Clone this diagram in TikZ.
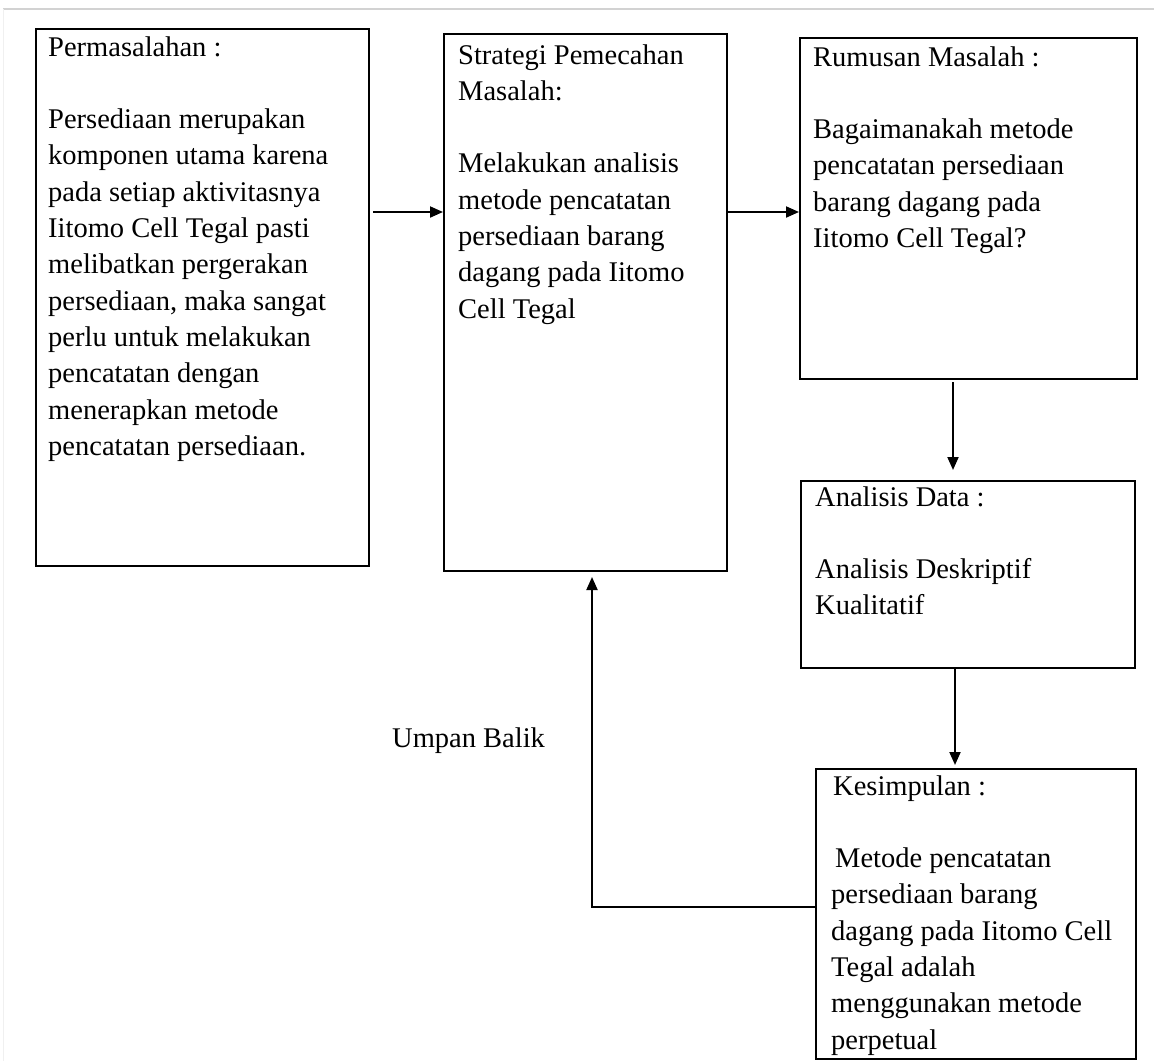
\documentclass[tikz,border=0pt]{standalone}
\usepackage{fontspec}
\setmainfont{Liberation Serif}
\usetikzlibrary{arrows.meta}
\newcommand{\blk}[1]{\begin{tabular}[t]{@{}l@{}}#1\end{tabular}}
\begin{document}
\begin{tikzpicture}[x=1pt,y=-1pt,
  box/.style={draw,line width=2pt,inner sep=0pt,anchor=north west},
  txt/.style={anchor=base west,inner sep=0pt,font=\fontsize{28.5}{36.3}\selectfont},
  arr/.style={line width=2pt,-{Triangle[length=13pt,width=11pt]}}]
\useasboundingbox (0,0) rectangle (1154,1061);
\draw[gray!35,line width=1.5pt] (3,9) -- (1154,9);
\draw[gray!12,line width=1pt] (3,9) -- (3,1061);
% boxes
\node[box,minimum width=333pt,minimum height=537pt] (p) at (35,28) {};
\node[box,minimum width=283pt,minimum height=537pt] (s) at (443,33) {};
\node[box,minimum width=337pt,minimum height=341pt] (r) at (799,37) {};
\node[box,minimum width=334pt,minimum height=187pt] (a) at (800,480) {};
\node[box,minimum width=320pt,minimum height=290pt] (k) at (815,768) {};
% texts
\node[txt] (pt) at (48,56) {\blk{Permasalahan :\\[36.3pt]
Persediaan merupakan\\
komponen utama karena\\
pada setiap aktivitasnya\\
Iitomo Cell Tegal pasti\\
melibatkan pergerakan\\
persediaan, maka sangat\\
perlu untuk melakukan\\
pencatatan dengan\\
menerapkan metode\\
pencatatan persediaan.}};
\node[txt] (st) at (458,64) {\blk{Strategi Pemecahan\\
Masalah:\\[36.3pt]
Melakukan analisis\\
metode pencatatan\\
persediaan barang\\
dagang pada Iitomo\\
Cell Tegal}};
\node[txt] (rt) at (813,66) {\blk{Rumusan Masalah :\\[36.3pt]
Bagaimanakah metode\\
pencatatan persediaan\\
barang dagang pada\\
Iitomo Cell Tegal?}};
\node[txt] (at) at (815,506) {\blk{Analisis Data :\\[36.3pt]
Analisis Deskriptif\\
Kualitatif}};
\node[txt] (kt) at (831,795) {\blk{\hspace*{2pt}Kesimpulan :\\[36.3pt]
\hspace*{4pt}Metode pencatatan\\
persediaan barang\\
dagang pada Iitomo Cell\\
Tegal adalah\\
menggunakan metode\\
perpetual}};
\node[txt] (ub) at (392,747) {Umpan Balik};
% connectors
\coordinate (y1) at (0,212);
\coordinate (fb) at (592,907);
\draw[arr,shorten <=3pt] (p.east |- y1) -- (s.west |- y1);
\draw[arr] (s.east |- y1) -- (r.west |- y1);
\draw[arr,shorten <=4pt,shorten >=10pt] (953,378) -- (953,480);
\draw[arr,shorten >=3pt] (955,667) -- (955,768);
\draw[arr,shorten >=5pt] (k.west |- fb) -- (fb) -- (fb |- s.south);
\end{tikzpicture}
\end{document}
